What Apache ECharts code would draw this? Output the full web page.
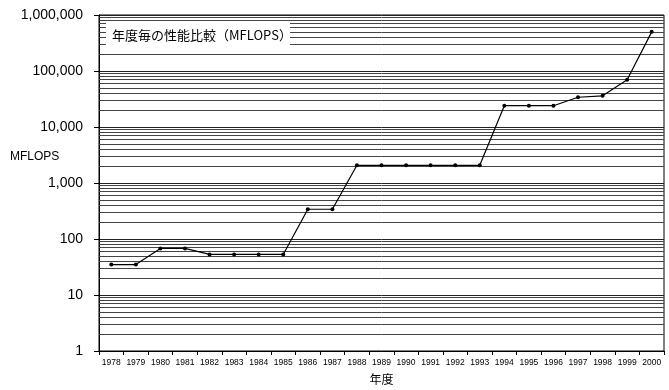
<!DOCTYPE html>
<html><head><meta charset="utf-8">
<script src="https://cdn.jsdelivr.net/npm/echarts@6/dist/echarts.min.js"></script>
<style>html,body{margin:0;padding:0;background:#fff}#c{width:669px;height:390px}</style>
</head><body><div id="c"></div>
<script>
const years = ['1978','1979','1980','1981','1982','1983','1984','1985','1986','1987','1988','1989','1990','1991','1992','1993','1994','1995','1996','1997','1998','1999','2000'];
const mflops = [35,35,68,68,53,53,53,53,340,340,2070,2070,2070,2070,2070,2070,24000,24000,24000,34000,36000,70000,500000];
const yTicks = [1,10,100,1000,10000,100000,1000000];
const minorMultipliers = [2,3,4,5,6,7,8,9];
const titleText = '年度毎の性能比較（MFLOPS）';
const yName = 'MFLOPS';
const xName = '年度';

const minorLines = [];
for (let k = 0; k < yTicks.length - 1; k++) {
  for (const m of minorMultipliers) minorLines.push({ yAxis: yTicks[k] * m });
}

const chart = echarts.init(document.getElementById('c'));
chart.setOption({
  animation: false,
  backgroundColor: '#fff',
  grid: { left: 99, right: 5, top: 15, bottom: 39, show: true, borderColor: '#000', borderWidth: 1,
    containLabel: false, outerBoundsMode: 'none' },
  xAxis: {
    type: 'category', data: years, boundaryGap: true,
    name: xName, nameLocation: 'middle', nameGap: 22,
    nameTextStyle: { fontSize: 12, color: '#000', fontFamily: 'Noto Sans CJK JP' },
    axisLine: { lineStyle: { color: '#000', width: 1 } },
    axisTick: { show: true, interval: 0, length: 4, lineStyle: { color: '#000' } },
    axisLabel: { interval: 0, fontSize: 8.5, color: '#000', margin: 7, fontFamily: 'Liberation Sans' },
    splitLine: { show: false }
  },
  yAxis: {
    type: 'log', logBase: 10, min: 1, max: 1000000,
    axisLine: { show: true, lineStyle: { color: '#000', width: 1 } },
    axisTick: { show: true, length: 5, lineStyle: { color: '#000' } },
    axisLabel: { fontSize: 14, color: '#000', margin: 16, fontFamily: 'Liberation Sans',
      formatter: v => Number(v).toLocaleString('en-US') },
    splitLine: { show: true, lineStyle: { color: '#222', width: 1 } }
  },
  series: [{
    type: 'line', data: mflops,
    symbol: 'circle', symbolSize: 4,
    lineStyle: { color: '#000', width: 1.2 },
    itemStyle: { color: '#000' },
    markLine: {
      silent: true, symbol: 'none', animation: false,
      label: { show: false },
      lineStyle: { color: '#444', width: 1, type: 'solid' },
      data: minorLines
    },
    z: 5
  }],
  graphic: [
    { type: 'rect', shape: { x: 106, y: 22, width: 184, height: 27 }, style: { fill: '#fff' }, z: 100 },
    { type: 'text', x: 112, y: 35, style: { text: titleText, fontSize: 13, fill: '#000', verticalAlign: 'middle', fontFamily: 'Noto Sans CJK JP' }, z: 101 },
    { type: 'text', x: 10, y: 157, style: { text: yName, fontSize: 12, fill: '#000', verticalAlign: 'middle', fontFamily: 'Liberation Sans' }, z: 101 }
  ]
});
</script></body></html>
